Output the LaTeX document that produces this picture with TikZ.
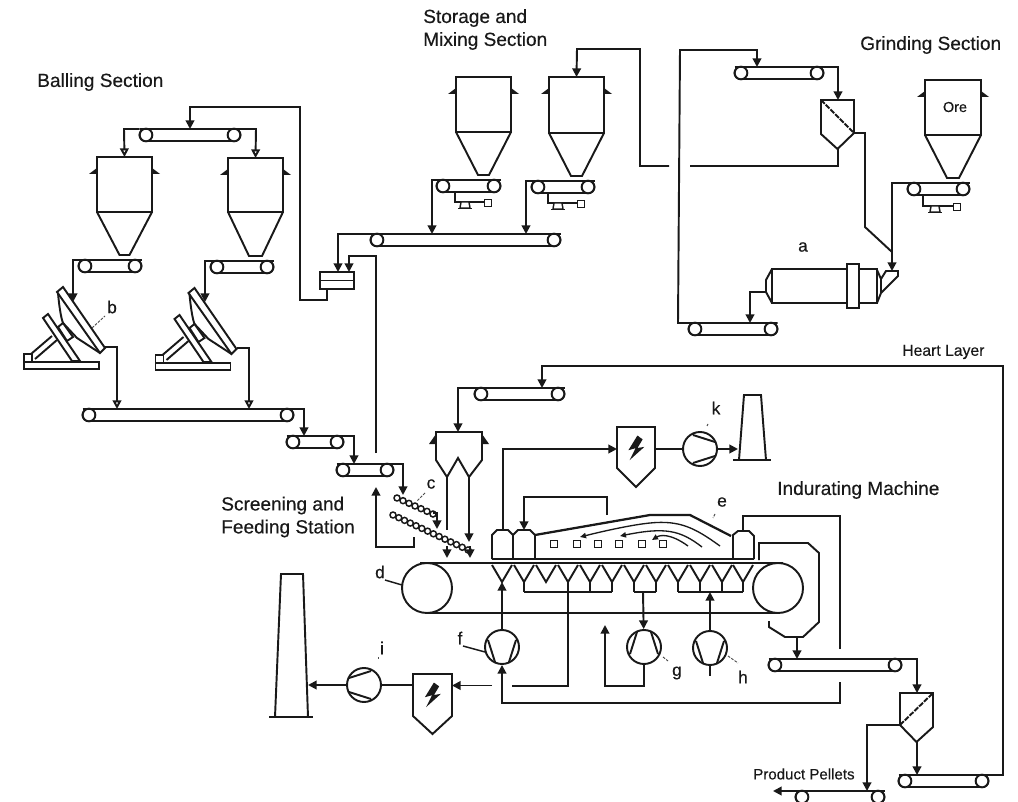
\documentclass[tikz,border=0pt]{standalone}
\usepackage{fontspec}
\setmainfont{Liberation Sans}[FakeBold=0.35]
\usetikzlibrary{arrows.meta}
\tikzset{
  x=0.75pt,y=-0.75pt,
  ln/.style={line width=1.45pt,line join=miter,black!90},
  thin ln/.style={line width=1.1pt,black!90},
  flow/.style={ln,-{Triangle[length=6.5pt,width=6.5pt]}},
  oflow/.style={ln,-{Triangle[open,length=6.5pt,width=6.5pt,fill=white]}},
  fanc/.style={circle,draw,line width=1.45pt,black!90,minimum size=25.5pt,inner sep=0pt},
  roll/.style={circle,draw,line width=1.45pt,black!90,fill=white,minimum size=9.5pt,inner sep=0pt},
  sq/.style={rectangle,draw,line width=1.2pt,black!90,minimum size=5.5pt,inner sep=0pt},
  wheel/.style={circle,draw,line width=1.45pt,black!90,fill=white,minimum size=37.5pt,inner sep=0pt},
  lab/.style={inner sep=0pt,text=black!90,font=\fontsize{14.3pt}{17.2pt}\selectfont,align=left},
  let/.style={inner sep=0pt,text=black!90,font=\fontsize{13pt}{15pt}\selectfont},
  lead/.style={line width=0.7pt,black!70,dash pattern=on 2pt off 1pt},
}
% conveyor: name, left roller x, right roller x, top y
\newcommand{\conv}[4]{%
  \draw[ln,rounded corners=4.5pt] ({#2-6.5},#4) rectangle ({#3+6.5},{#4+12});
  \node[roll] (#1L) at (#2,{#4+6}) {};
  \node[roll] (#1R) at (#3,{#4+6}) {};
  \coordinate (#1-l) at ({#2-6.5},#4);
  \coordinate (#1-r) at ({#3+6.5},#4);
}
% hopper: name, left x, right x, top y, shoulder y, neck half-width, bottom y
\newcommand{\hop}[7]{%
  \draw[ln] (#2,#5) -- (#2,#4) -- (#3,#4) -- (#3,#5) -- cycle;
  \draw[ln] (#2,#5) -- ({(#2+#3)/2-#6},#7) -- ({(#2+#3)/2+#6},#7) -- (#3,#5);
  \fill[black!90] (#2,{#4+11}) -- (#2,{#4+17}) -- ({#2-8},{#4+17}) -- cycle;
  \fill[black!90] (#3,{#4+11}) -- (#3,{#4+17}) -- ({#3+8},{#4+17}) -- cycle;
  \coordinate (#1) at ({(#2+#3)/2},#4);
}
% fan: name, x, y, rotation
\newcommand{\fan}[4]{%
  \node[fanc] (#1) at (#2,#3) {};
  \begin{scope}[shift={(#2,#3)},rotate=#4]
    \draw[ln] (-7,-14) -- (15,-7);
    \draw[ln] (-7,14) -- (15,7);
  \end{scope}
}
% precipitator: name, left, right, top, shoulder, tip
\newcommand{\esp}[6]{%
  \draw[ln] (#2,#4) -- (#3,#4) -- (#3,#5) -- ({(#2+#3)/2},#6) -- (#2,#5) -- cycle;
  \begin{scope}[shift={({(#2+#3)/2},{#4+19})}]
    \draw[ln,line width=1.1pt,fill=black!90] (2,-10) -- (-6,3) -- (1,1) -- (-4,11) -- (6,2) -- (0,3) -- (6,-7);
  \end{scope}
  \coordinate (#1-l) at (#2,{#4+22});
  \coordinate (#1-r) at (#3,{#4+22});
}
% stack
\newcommand{\stack}[8]{%
  \draw[ln] (#1,#5) -- (#2,#3) -- (#4,#3) -- (#6,#5);
  \draw[ln] (#7,#5) -- (#8,#5);
}
% screen
\newcommand{\scr}[6]{%
  \draw[ln] (#1,#3) -- (#2,#3) -- (#2,#4) -- ({(#1+#2)/2},#5) -- (#1,#6) -- cycle;
}
% balling disc, dx dy
\newcommand{\disc}[2]{%
  \begin{scope}[shift={(#1,#2)}]
    \draw[ln] (57,292) -- (63,287) -- (105,348) -- (100,353) -- cycle;
    \draw[ln] (58,293) .. controls (59,305) and (61,318) .. (63,323) -- (77,338) -- (100,353);
    \draw[ln] (43,318) -- (48,314) -- (80,361) -- (72,361) -- cycle;
    \draw[ln,fill=white] (58,327) -- (63,323) -- (73,337) -- (67,341) -- cycle;
    \draw[ln] (31,354) -- (52,336);
    \draw[ln] (35,359) -- (57,340);
    \draw[ln] (24,354) rectangle (32,362);
    \draw[ln] (24,362) rectangle (99,369);
  \end{scope}
}
% scale under a conveyor: name, x of drop, y of belt bottom, pedestal x, square x
\newcommand{\scl}[5]{%
  \draw[thin ln] (#2,#3) -- (#2,{#3+10}) -- (#5,{#3+10});
  \draw[thin ln,fill=white] ({#4-4},{#3+10}) -- ({#4+4},{#3+10}) -- ({#4+5},{#3+16}) -- ({#4-5},{#3+16}) -- cycle;
  \draw[ln] ({#4-7},{#3+16.5}) -- ({#4+7},{#3+16.5});
  \node[sq] (#1) at ({#5+4},{#3+11}) {};
}
\begin{document}
\begin{tikzpicture}
\useasboundingbox[fill=white] (0,0) rectangle (1018,802);

%%% ---------- Balling section
\conv{ct}{146}{234}{129}
\hop{h1}{97}{152}{157}{212}{5}{255}
\hop{h2}{228}{283}{158}{212}{6.5}{256}
\conv{cb1}{85}{135}{260}
\conv{cb2}{217}{267}{261}
\disc{0}{0}
\disc{131.5}{1}
\coordinate (d1in) at (73,302);
\coordinate (d2in) at (205,302);
\coordinate (d1out) at (105,347);
\coordinate (d2out) at (237,348);
\draw[ln] (ct-l) -- (ct-r);
\draw[oflow] (ct-r) -- (256,129) -- (h2);
\draw[oflow] (ct-l) -- (124,129) -- (h1);
\draw[flow] (cb1-r) -- (cb1-l) -- (73,260) -- (d1in);
\draw[flow] (cb2-r) -- (cb2-l) -- (205,261) -- (d2in);

%%% ---------- Main balling conveyors
\conv{cm}{89}{287}{409}
\conv{cn}{293}{337}{436}
\conv{co}{343}{387}{464}
\draw[oflow] (d1out) -- (117,347) -- (117,409);
\draw[oflow] (d2out) -- (249,348) -- (249,409);
\draw[flow] (cm-l) -- (cm-r) -- (304,409) -- (304,436);
\draw[flow] (cn-l) -- (cn-r) -- (354,436) -- (354,464);

%%% ---------- Mixer box
\node[rectangle,draw,line width=1.45pt,black!90,minimum width=25.5pt,minimum height=12.75pt,inner sep=0pt] (mix) at (337,280.5) {};
\draw[ln] (mix.west) -- (mix.east);
\coordinate (mixa) at (338,272);
\coordinate (mixb) at (349,272);
\coordinate (fdr) at (190,129);
\draw[flow] (327,289) -- (327,300) -- (300,300) -- (300,107) -- (190,107) -- (fdr);

%%% ---------- Storage and mixing
\hop{s1}{456}{511}{77}{132}{5.5}{175}
\hop{s2}{549}{604}{77}{133}{5.5}{176}
\conv{cs1}{443}{494}{180}
\conv{cs2}{538}{588}{181}
\scl{w1}{455}{192}{465}{484}
\scl{w2}{548}{193}{558}{577}
\conv{cx}{377}{554}{234}
\coordinate (cxa) at (432,234);
\coordinate (cxb) at (526,234);
\draw[flow] (cs1-r) -- (cs1-l) -- (432,180) -- (cxa);
\draw[flow] (cs2-r) -- (cs2-l) -- (526,181) -- (cxb);
\draw[flow] (cx-r) -- (cx-l) -- (338,234) -- (mixa);
\draw[flow] (376,453) -- (376,256) -- (349,256) -- (mixb);

%%% ---------- Grinding
\conv{cg}{741}{817}{67}
\scr{821}{854}{100}{133}{149}{134}
\draw[ln,dash pattern=on 4pt off 1pt] (821,100) -- (854,133);
\coordinate (sgtop) at (838,100);
\coordinate (sgbot) at (838,149);
\coordinate (sgout) at (854,133);
\draw[flow] (cg-l) -- (cg-r) -- (838,67) -- (sgtop);
\draw[ln] (sgbot) -- (838,166) -- (690,166);
\draw[flow] (669,166) -- (640,166) -- (640,49) -- (577,49) -- (s2);
\conv{cr}{695}{771}{323}
\coordinate (cgdrop) at (757,67);
\draw[flow] (cr-r) -- (cr-l) -- (678,323) -- (680,50) -- (757,50) -- (cgdrop);
% mill
\draw[ln] (772,269) rectangle (877,303);
\draw[ln] (772,269) -- (766,280) -- (766,292) -- (772,303);
\draw[ln,fill=white] (847,264) rectangle (859,308);
\draw[ln] (877,270) -- (881,279) -- (886,271) -- (898,271) -- (898,276) -- (881,293) -- (877,303);
\draw[ln] (881,279) -- (881,293);
\coordinate (millin) at (892,271);
\coordinate (millout) at (766,292);
\coordinate (crdrop) at (750,323);
\draw[flow] (millout) -- (750,292) -- (crdrop);
\hop{ore}{925}{981}{80}{135}{6}{178}
\draw[ln] (925,80) -- (981,80);
\conv{cq}{914}{963}{183}
\scl{w3}{923}{196}{935}{953}
\draw[flow] (cq-r) -- (cq-l) -- (892,183) -- (millin);
\draw[ln] (sgout) -- (865,133) -- (865,227) -- (892,252);

%%% ---------- Screening
\foreach \i in {0,...,6} \draw[line width=1.1pt,black!90] ({397+6*\i},{498+2.67*\i}) circle (3);
\foreach \i in {0,...,13} \draw[line width=1.1pt,black!90] ({393+5.77*\i},{515+2.69*\i}) circle (3);
\coordinate (co2) at (403,495);
\draw[flow] (co-l) -- (co-r) -- (403,464) -- (co2);
\draw[flow] (433,513) -- (437,513) -- (437,529);
\coordinate (retup) at (376,487);
\draw[flow] (414,537) -- (414,547) -- (376,547) -- (retup);
\coordinate (strandtop) at (447,558);
\draw[flow] (447,546) -- (strandtop);
\draw[flow] (470,546) -- (470,558);

%%% ---------- Twin hopper
\draw[ln] (436,432) -- (482,432) -- (482,460) -- (469,477) -- (458,458) -- (447,477) -- (436,460) -- cycle;
\fill[black!90] (436,434) -- (436,444) -- (429,444) -- cycle;
\fill[black!90] (482,434) -- (482,444) -- (489,444) -- cycle;
\coordinate (tw) at (458,432);
\coordinate (twl) at (447,477);
\coordinate (twr) at (469,477);
\draw[ln] (twl) -- (447,530);
\draw[flow] (twr) -- (469,542);
\conv{ca}{481}{558}{388}
\coordinate (cadrop) at (542,388);
\draw[flow] (ca-r) -- (ca-l) -- (458,388) -- (tw);

%%% ---------- Waste gas top
\esp{e1}{617}{655}{427}{468}{487}
\fan{fk}{700}{449}{0}
\stack{739}{744}{395}{761}{460}{766}{733}{771}
\draw[flow] (503,530) -- (503,449) -- (617,449);
\draw[ln] (655,449) -- (fk);
\draw[flow] (fk) -- (738,449);

%%% ---------- Indurating hood
\draw[ln,line width=1.7pt] (535,535) -- (650,515) -- (690,515) -- (731,536);
\draw[ln] (492,559) -- (492,535) -- (497,530) -- (508,530) -- (513,535) -- (513,559);
\draw[ln] (513,535) -- (518,530) -- (530,530) -- (535,535) -- (535,559);
\draw[ln] (733,559) -- (733,535) -- (738,531) -- (749,531) -- (754,536) -- (754,559);
\draw[ln,line width=1.7pt] (492,559) -- (754,559);
\node[sq] (q1) at (554,544) {};
\node[sq] (q2) at (577,544) {};
\node[sq] (q3) at (598,544) {};
\node[sq] (q4) at (619,544) {};
\node[sq] (q5) at (642,544) {};
\node[sq] (q6) at (663,544) {};
\coordinate (hd2) at (524,530);
\draw[flow] (607,515) -- (607,497) -- (524,497) -- (hd2);
\tikzset{gasf/.style={line width=1pt,black!90,-{Triangle[length=4.5pt,width=4pt]}}}
\draw[gasf] (720,546) .. controls (695,528) and (680,520) .. (650,523) .. controls (630,525) and (600,532) .. (580,537);
\draw[gasf] (702,547) .. controls (680,530) and (665,527) .. (620,536);
\draw[gasf] (688,546) .. controls (670,533) and (660,535) .. (652,540);

%%% ---------- Strand
\draw[ln] (420,563) -- (783,563);
\draw[ln] (427,613) -- (778,613);
\node[wheel] (wl) at (427,588) {};
\node[wheel] (wr) at (778,588) {};
\foreach \c in {502,524,546,568,590,612,634,656,678,700,722,743}
  \draw[ln] ({\c-10},565) -- (\c,582) -- ({\c+10},565);
\foreach \c in {524,568,590,612,634,656,678,700,722,743}
  \draw[ln] (\c,582) -- (\c,592);
\draw[ln] (524,592) -- (612,592);
\draw[ln] (634,592) -- (656,592);
\draw[ln] (678,592) -- (743,592);

%%% ---------- Fans below the strand
\fan{ff}{502}{647}{-90}
\fan{fg}{644}{647}{90}
\fan{fh}{710}{648}{-90}
\fan{fi}{364}{685}{180}
\coordinate (v1) at (502,582);
\coordinate (m2) at (643,592);
\coordinate (m3) at (710,592);
\draw[flow] (ff) -- (v1);
\draw[flow] (m2) -- (fg);
\draw[flow] (fh) -- (m3);
\draw[ln] (fh) -- (710,676);
\draw[ln] (568,592) -- (568,686) -- (512,686);
\coordinate (fgup) at (605,625);
\draw[flow] (fg) -- (644,686) -- (605,686) -- (fgup);
\draw[flow] (840,682) -- (840,703) -- (502,703) -- (ff);
\draw[ln] (840,649) -- (840,516) -- (743,516) -- (743,531);
\esp{e2}{413}{452}{674}{716}{734}
\stack{275}{281}{574}{303}{717}{308}{269}{313}
\draw[flow] (492,685.5) -- (452,685.5);
\draw[ln] (fi) -- (413,685);
\draw[flow] (fi) -- (308,685);

%%% ---------- Discharge
\draw[ln] (759,560) -- (759,543) -- (808,543) -- (819,553) -- (819,622) -- (803,637) -- (785,637) -- (769,627) -- (769,621);
\conv{cd}{775}{895}{659}
\coordinate (cddrop) at (797,659);
\draw[flow] (797,637) -- (cddrop);
\scr{900}{933}{693}{727}{742}{725}
\draw[ln,dash pattern=on 4pt off 1pt] (900,725) -- (933,693);
\coordinate (s2top) at (917,693);
\draw[flow] (cd-l) -- (cd-r) -- (917,659) -- (s2top);
\conv{ce}{905}{982}{775}
\conv{cp}{802}{878}{791}
\coordinate (cedrop) at (917,775);
\coordinate (cpdrop) at (867,791);
\draw[flow] (917,742) -- (cedrop);
\draw[flow] (900,725) -- (867,725) -- (cpdrop);
\draw[flow] (cp-r) -- (cp-l) -- (773,791);
\draw[flow] (ce-l) -- (ce-r) -- (1003,775) -- (1003,366) -- (542,366) -- (cadrop);

%%% ---------- Leader marks
\draw[lead] (92,328) -- (105,316);
\draw[lead] (425,493) -- (417,501);
\draw[thin ln] (385,580) -- (402,585);
\draw[lead] (715,514) -- (713,518);
\draw[thin ln] (463,646) -- (485,652);
\draw[lead] (663,657) -- (668,661);
\draw[lead] (728,656) -- (738,663);
\draw[lead] (378,657) -- (378,659);
\draw[lead] (708,424) -- (707,426);

%%% ---------- Texts
\node[lab,anchor=west] (tb) at (37,82) {Balling Section};
\node[lab,anchor=west] (ts) at (423,29.5) {Storage and\\Mixing Section};
\node[lab,anchor=west] (tg) at (860,45) {Grinding Section};
\node[lab,anchor=west] (tf) at (221,517) {Screening and\\Feeding Station};
\node[lab,anchor=west] (ti) at (777,490) {Indurating Machine};
\node[let,anchor=west] (th) at (902,352) {\fontsize{11.8pt}{13pt}\selectfont Heart Layer};
\node[let,anchor=west] (tp) at (753,774) {\fontsize{11.3pt}{13pt}\selectfont Product Pellets};
\node[let] (tore) at (955,107) {\fontsize{10.8pt}{12pt}\selectfont Ore};
\node[let] (la) at (803,247) {a};
\node[let] (lb) at (112,307) {b};
\node[let] (lc) at (431,484) {c};
\node[let] (ld) at (380,572) {d};
\node[let] (le) at (722,502) {e};
\node[let] (lf) at (460,638) {f};
\node[let] (lg) at (677,673) {g};
\node[let] (lh) at (743,677) {h};
\node[let] (li) at (382,648) {i};
\node[let] (lk) at (716,408) {k};
\end{tikzpicture}
\end{document}
